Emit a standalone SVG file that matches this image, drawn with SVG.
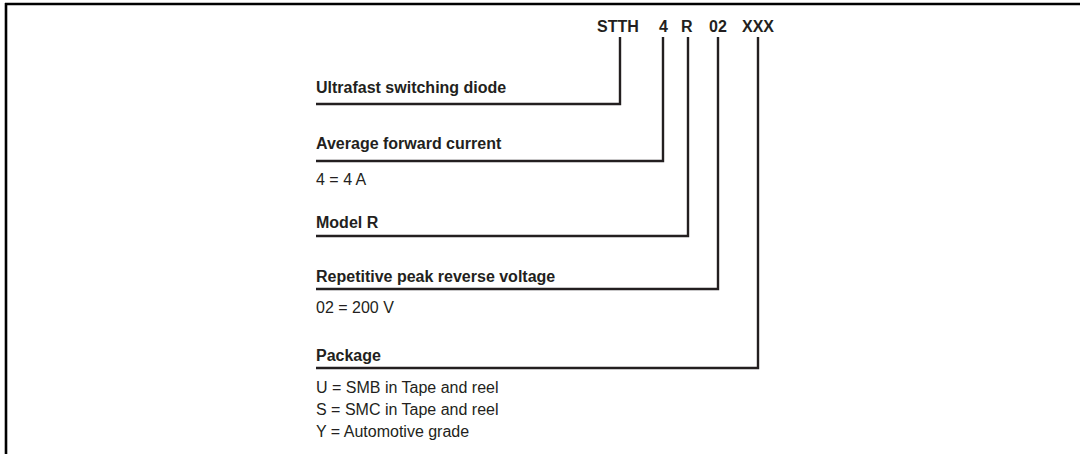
<svg xmlns="http://www.w3.org/2000/svg" width="1080" height="454" viewBox="0 0 1080 454">
<style>
.frame{stroke:#000;stroke-width:2.6;fill:none}
.ln{stroke:#231f20;stroke-width:2.4;fill:none}
.hdr{font-family:"Liberation Sans",Arial,sans-serif;font-weight:bold;font-size:16px;fill:#231f20}
.lbl{font-family:"Liberation Sans",Arial,sans-serif;font-weight:bold;font-size:16px;fill:#231f20}
.txt{font-family:"Liberation Sans",Arial,sans-serif;font-size:16px;fill:#231f20}
</style>
<rect width="1080" height="454" fill="#fff"/>
<path class="frame" d="M6,454 V3 M5,4 H1080"/>
<g id="header">
<text class="hdr" x="597" y="32">STTH</text>
<text class="hdr" x="659" y="32">4</text>
<text class="hdr" x="681" y="32">R</text>
<text class="hdr" x="709" y="32">02</text>
<text class="hdr" x="742" y="32">XXX</text>
</g>
<g id="connectors">
<path class="ln" d="M316,104 H620 V37"/>
<path class="ln" d="M316,161 H663 V37"/>
<path class="ln" d="M316,236 H688 V37"/>
<path class="ln" d="M316,289 H718 V37"/>
<path class="ln" d="M316,368 H758 V37"/>
</g>
<g id="node-diode">
<text class="lbl" x="316" y="93">Ultrafast switching diode</text>
</g>
<g id="node-current">
<text class="lbl" x="316" y="149">Average forward current</text>
<text class="txt" x="316" y="185">4 = 4 A</text>
</g>
<g id="node-model">
<text class="lbl" x="316" y="228">Model R</text>
</g>
<g id="node-voltage">
<text class="lbl" x="316" y="282">Repetitive peak reverse voltage</text>
<text class="txt" x="316" y="313">02 = 200 V</text>
</g>
<g id="node-package">
<text class="lbl" x="316" y="361">Package</text>
<text class="txt" x="316" y="393">U = SMB in Tape and reel</text>
<text class="txt" x="316" y="415">S = SMC in Tape and reel</text>
<text class="txt" x="316" y="437">Y = Automotive grade</text>
</g>
</svg>
